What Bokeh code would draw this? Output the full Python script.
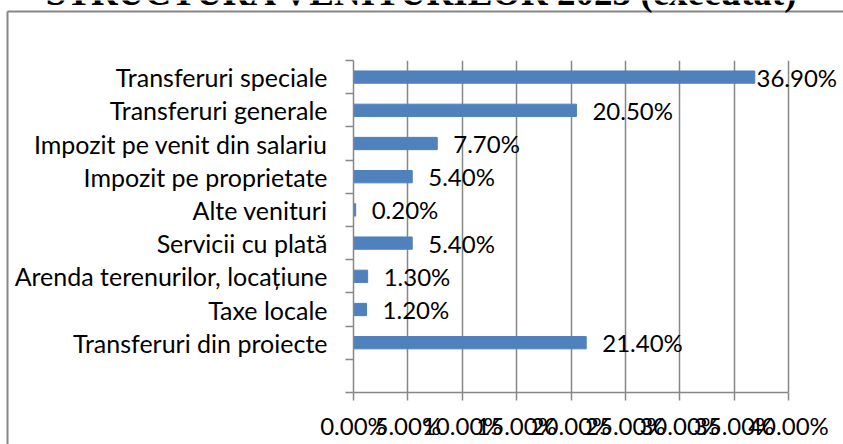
from bokeh.plotting import figure
from bokeh.layouts import column
from bokeh.models import ColumnDataSource, FixedTicker, Range1d, LabelSet
from bokeh.core.properties import value
from bokeh.embed import file_html
from bokeh.resources import INLINE

title_text = "STRUCTURA VENITURILOR 2023 (executat)"
categories = ["Transferuri speciale", "Transferuri generale", "Impozit pe venit din salariu",
              "Impozit pe proprietate", "Alte venituri", "Servicii cu plată",
              "Arenda terenurilor, locațiune", "Taxe locale", "Transferuri din proiecte"]
values = [36.9, 20.5, 7.7, 5.4, 0.2, 5.4, 1.3, 1.2, 21.4]
x_ticks = [0, 5, 10, 15, 20, 25, 30, 35, 40]
x_tick_labels = ["0.00%", "5.00%", "10.00%", "15.00%", "20.00%", "25.00%", "30.00%", "35.00%", "40.00%"]

FONT = "Lato"
FS_CAT = "25px"
FS_NUM = "24px"
GRAY = "#878787"
BLUE = "#4F81BD"

W, H = 843, 444
LEFT, TOP, BOTTOM = 353, 60, 52
AXIS_W = 435                       # pixel length of the 0..40 % axis
RIGHT = 4
frame_w = W - LEFT - RIGHT
frame_h = H - TOP - BOTTOM

# ---------------- background layer: chart border + (cut-off) title ----------------
bg = figure(width=W, height=H, x_range=Range1d(0, W), y_range=Range1d(H, 0),
            x_axis_type=None, y_axis_type=None, output_backend="svg",
            toolbar_location=None, min_border=0)
bg.frame_align = False
bg.outline_line_color = None
bg.background_fill_color = "white"
bg.border_fill_color = "white"
bg.segment(x0=[7, 7], y0=[11, 11], x1=[7, W + 10], y1=[H + 10, 11],
           line_color=GRAY, line_width=2)
bg.text(x=[422], y=[-8], text=[title_text], text_font=value("Liberation Serif"),
        text_font_style="bold", text_font_size="37px", text_align="center",
        text_baseline="alphabetic", text_color="black")

# ---------------- main chart ----------------
n_slots = len(categories) + 1          # one empty slot at the bottom (as in the original)
centers = [n_slots - i - 0.5 for i in range(len(categories))]
labels = ["%.2f%%" % v for v in values]

xmax = x_ticks[-1]
ppu = AXIS_W / xmax
x_end = frame_w / ppu
label_w = 80
limit = 836 - LEFT
offsets = [min(16, limit - v * ppu - label_w) for v in values]

src = ColumnDataSource(dict(y=centers, v=values, lab=labels, off=offsets))

p = figure(width=W, height=H, x_range=Range1d(0, x_end), y_range=Range1d(0, n_slots),
           output_backend="svg", toolbar_location=None,
           min_border_left=LEFT, min_border_right=RIGHT,
           min_border_top=TOP, min_border_bottom=BOTTOM)
p.frame_align = False
p.outline_line_color = None
p.background_fill_color = None
p.border_fill_color = None
p.margin = (-H, 0, 0, 0)

p.hbar(y="y", left=0, right="v", height=0.37, source=src,
       fill_color=BLUE, line_color=BLUE, line_width=1)

p.ygrid.visible = False
p.xgrid.ticker = FixedTicker(ticks=x_ticks, minor_ticks=[])
p.xgrid.grid_line_color = GRAY
p.xgrid.grid_line_width = 1.5

xa = p.xaxis[0]
xa.bounds = (0, xmax)
xa.ticker = FixedTicker(ticks=x_ticks, minor_ticks=[])
xa.major_label_overrides = {t: l for t, l in zip(x_ticks, x_tick_labels)}
xa.axis_line_color = GRAY
xa.axis_line_width = 1.5
xa.major_tick_line_color = GRAY
xa.major_tick_line_width = 1.5
xa.major_tick_out = 8
xa.major_tick_in = 0
xa.minor_tick_line_color = None
xa.major_label_text_font = FONT
xa.major_label_text_font_size = FS_NUM
xa.major_label_text_color = "black"
xa.major_label_standoff = 10

ya = p.yaxis[0]
ya.ticker = FixedTicker(ticks=centers, minor_ticks=list(range(n_slots + 1)))
ya.major_label_overrides = {float(c): n for c, n in zip(centers, categories)}
ya.axis_line_color = GRAY
ya.axis_line_width = 1.5
ya.major_tick_line_color = None
ya.major_tick_out = 0
ya.major_tick_in = 0
ya.minor_tick_line_color = GRAY
ya.minor_tick_line_width = 1.5
ya.minor_tick_out = 8
ya.minor_tick_in = 0
ya.major_label_text_font = FONT
ya.major_label_text_font_size = FS_CAT
ya.major_label_text_color = "black"
ya.major_label_standoff = 18

p.add_layout(LabelSet(x="v", y="y", text="lab", x_offset="off", source=src,
                      text_font=value(FONT), text_font_size=FS_NUM, text_color="black",
                      text_baseline="middle", text_align="left"))

layout = column(bg, p, spacing=0)
open("out.html", "w").write(file_html(layout, INLINE))
